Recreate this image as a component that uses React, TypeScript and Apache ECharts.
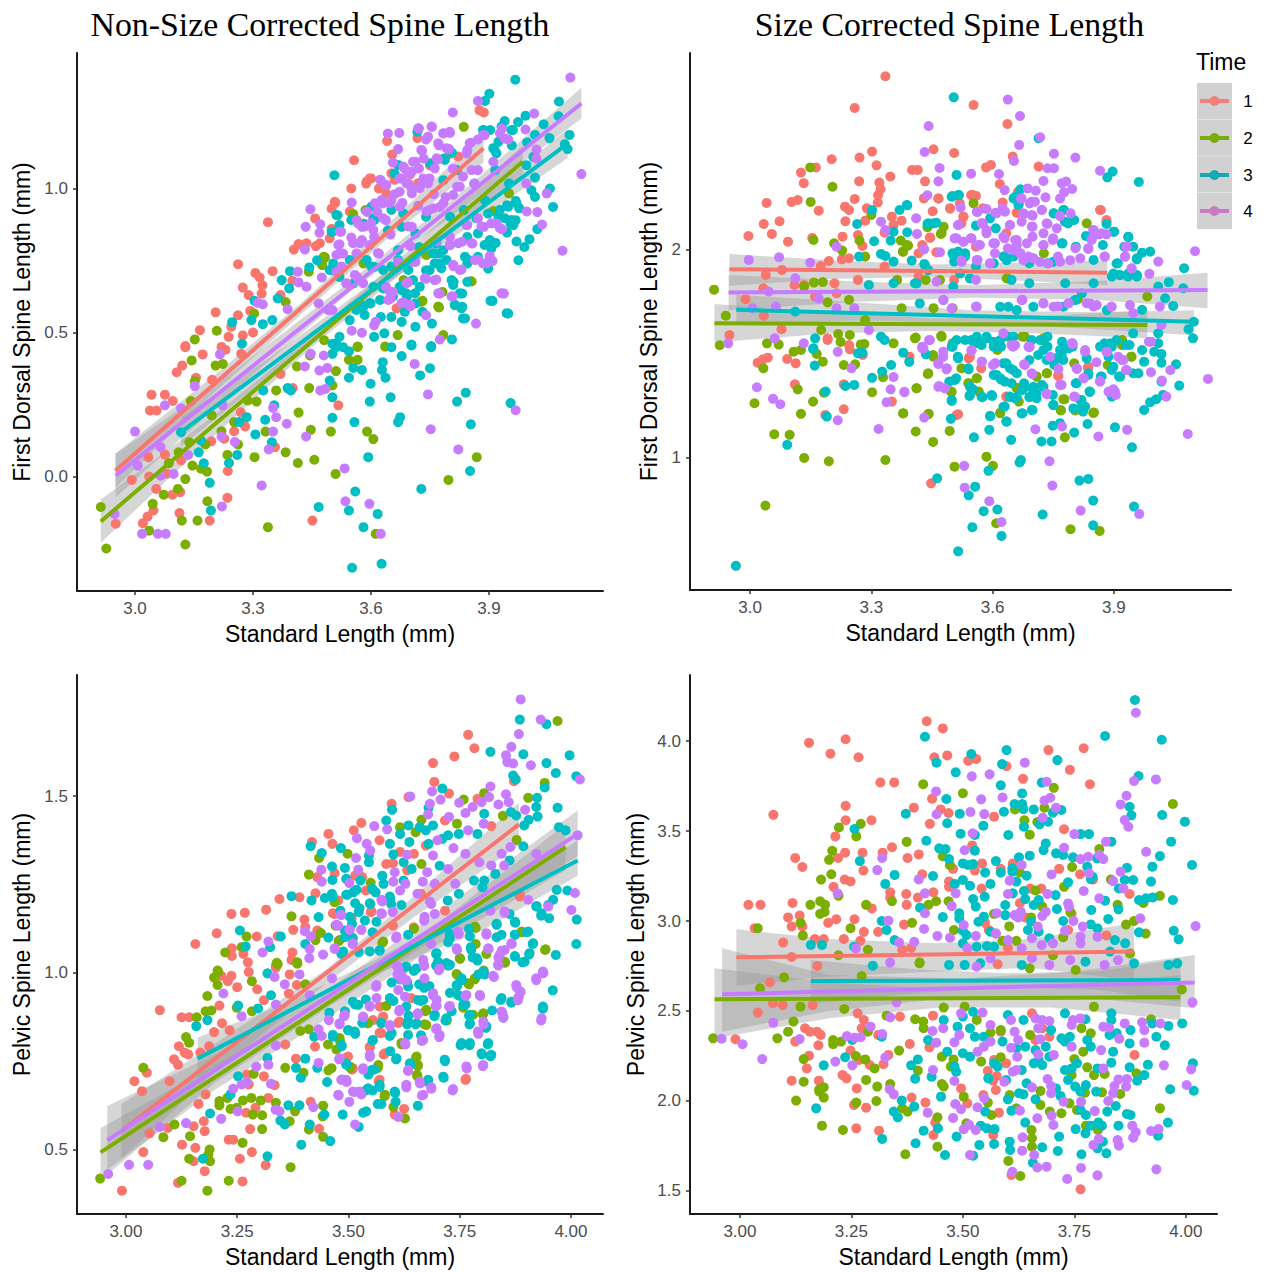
import React, { useEffect, useRef } from "react";
import * as echarts from "echarts";

const GROUP_NAMES = ["1", "2", "3", "4"];
const COLORS = ["#F8766D", "#7CAE00", "#00BFC4", "#C77CFF"];
const LEGEND_COLORS = ["#f0807a", "#7cab0c", "#16a8b4", "#c67cc4"];
const BAND_FILL = "rgba(153,153,153,0.4)";

const pointsA1 = [[3.557,1.098],[3.338,.883],[3.876,1.272],[3.887,1.264],[3.641,1.165],[3.718,1.175],[3.654,1.118],[3.6,1.035],[3.588,1.017],[3.509,.95],[3.458,.896],[3.416,.807],[3.404,.788],[3.436,.81],[3.47,.81],[3.262,.737],[3.306,.707],[3.317,.691],[3.35,.713],[3.274,.656],[3.324,.664],[3.289,.63],[3.322,.635],[3.205,.57],[3.262,.56],[3.293,.575],[3.165,.508],[3.245,.52],[3.238,.485],[3.274,.49],[3.128,.453],[3.128,.449],[3.172,.424],[3.12,.385],[3.106,.362],[3.155,.343],[3.196,.336],[3.042,.284],[3.076,.284],[3.096,.262],[3.038,.229],[3.055,.229],[2.992,-.012],[3.034,.067],[3.076,.076],[3.036,0],[3.054,-.043],[3.115,-.054],[3.095,-.063],[3.047,-.118],[3.032,-.139],[3.02,-.162],[2.951,-.164],[3.113,-.127],[3.19,-.153],[3.235,-.074],[3.236,.019],[3.28,.174],[3.252,.157],[3.269,.223],[3.194,.122],[3.227,.131],[3.356,.102],[3.451,-.153],[3.517,.247],[3.401,.307],[3.23,.44],[3.27,.426],[3.37,.356],[3.117,.056],[3.08,.01],[3.5,.93],[3.55,1.0],[3.62,1.0],[3.66,1.03],[3.7,1.05],[3.75,1.08],[3.8,1.12],[3.46,.8],[3.5,.86],[3.37,.63],[3.4,.68],[3.22,.45],[3.3,.5],[3.652,1.053],[3.589,1.024],[3.597,1.035],[3.508,.954],[3.546,.92],[3.495,.827],[3.639,.983],[3.72,1.018],[3.822,1.111],[3.665,.584]];
const pointsA2 = [[2.913,-.106],[2.927,-.25],[3.128,-.236],[3.036,-.188],[3.119,-.153],[3.159,-.153],[3.045,-.095],[3.184,-.086],[3.073,-.063],[3.109,-.043],[3.128,-.009],[3.338,-.176],[3.146,.038],[3.168,.027],[3.183,.017],[3.086,.046],[3.235,.075],[3.262,.111],[3.304,.067],[3.383,.084],[3.414,.047],[3.456,.058],[3.51,.009],[3.447,.162],[3.498,.156],[3.59,.156],[3.606,.13],[3.612,-.199],[3.797,-.012],[3.869,.067],[3.416,.222],[3.332,.156],[3.22,.157],[3.252,.189],[3.443,.307],[3.359,.299],[3.309,.26],[3.287,.264],[3.142,.262],[3.152,.331],[3.144,.403],[3.205,.385],[3.223,.391],[3.412,.382],[3.445,.42],[3.544,.405],[3.566,.405],[3.566,.451],[3.636,.451],[3.511,.366],[3.502,.316],[3.195,.212],[3.138,.119],[3.179,.111],[3.111,.084],[3.152,.476],[3.208,.506],[3.303,.566],[3.383,.606],[3.476,.734],[3.483,.76],[3.555,.911],[3.442,.711],[3.836,1.214],[3.854,.678],[3.773,.587],[3.731,.61],[3.782,.641],[3.784,.491],[3.668,.491],[3.683,.682],[3.951,.983],[3.566,.45],[3.481,.473],[3.911,.922],[3.581,.74],[3.586,.925],[3.48,.763],[3.474,.74],[3.771,.59],[3.728,.607],[3.856,.677],[3.741,.769]];
const pointsA3 = [[3.967,1.378],[3.901,1.329],[3.89,1.304],[4.078,1.302],[4.077,1.251],[4.039,1.223],[3.993,1.253],[3.974,1.231],[3.94,1.234],[3.961,1.203],[3.933,1.212],[3.903,1.203],[3.886,1.203],[3.718,1.197],[4.054,1.175],[4.105,1.186],[4.1,1.137],[4.093,1.154],[4.017,1.186],[3.997,1.16],[3.958,1.15],[3.914,1.135],[3.924,1.162],[3.806,1.124],[3.785,1.104],[3.755,1.083],[3.995,1.081],[4.017,1.038],[4.055,1],[4.063,.936],[4.008,.994],[4.017,.971],[3.968,.957],[3.946,.942],[3.977,.931],[3.968,.89],[3.955,.878],[3.946,.847],[4.023,.859],[4.003,.824],[3.99,.797],[3.975,.751],[3.917,.811],[3.9,.809],[3.898,.722],[3.85,.751],[3.845,.676],[3.81,.676],[3.832,.635],[3.909,.61],[3.949,.566],[3.814,.595],[3.832,.589],[3.839,.549],[3.806,.476],[3.755,.531],[3.753,.453],[3.703,.458],[3.507,1.046],[3.515,.907],[3.52,.873],[3.502,.85],[3.463,.751],[3.443,.726],[3.394,.713],[3.373,.682],[3.392,.653],[3.363,.618],[3.304,.61],[3.247,.536],[3.296,.543],[3.349,.543],[3.325,.529],[3.625,.554],[3.652,.554],[3.678,.537],[3.713,.52],[3.608,.485],[3.634,.497],[3.581,.589],[3.599,.601],[3.502,.716],[3.52,.485],[3.511,.462],[3.546,.543],[3.749,.716],[3.775,.74],[3.784,.786],[3.766,.774],[3.74,.716],[3.678,.647],[3.691,.624],[3.713,.601],[3.731,.572],[3.872,.763],[3.845,.74],[3.898,.913],[3.872,.844],[3.801,.902],[3.836,.925],[3.74,.902],[3.713,.844],[3.678,.867],[3.643,.855],[3.608,.89],[3.581,.878],[3.669,.786],[3.608,.728],[3.555,.67],[3.52,.693],[3.766,.809],[3.722,.797],[3.845,.832],[3.924,.902],[3.89,.959],[3.863,1.017],[3.819,1.064],[3.784,1.029],[3.951,1.017],[4.013,1.11],[3.916,1.064],[3.66,1.052],[3.272,.461],[3.544,.435],[3.544,.343],[3.555,.377],[3.577,.37],[3.599,.322],[3.597,.26],[3.63,.397],[3.628,.37],[3.637,.343],[3.65,.275],[3.678,.418],[3.725,.351],[3.75,.376],[3.753,.449],[3.703,.455],[3.652,.449],[3.819,.26],[3.841,.291],[3.955,.255],[3.669,.189],[3.674,.206],[3.854,.181],[3.558,.189],[3.502,.204],[3.502,.275],[3.495,.333],[3.388,.307],[3.396,.299],[3.326,.299],[3.331,.197],[3.284,.206],[3.265,.189],[3.306,.146],[3.348,.119],[3.354,.247],[3.162,.084],[3.175,.046],[3.239,.047],[3.26,.075],[3.19,-.022],[3.193,-.118],[3.467,-.106],[3.593,.067],[3.56,-.052],[3.544,-.118],[3.617,-.13],[3.581,-.176],[3.552,-.317],[3.627,-.303],[3.728,-.043],[3.852,.019],[3.511,.449],[3.502,.461],[3.529,.449],[3.502,.426],[3.117,.154],[3.168,.125],[3.775,.775],[3.792,.752],[3.758,.775],[3.762,.74],[3.779,.723],[3.805,.682],[3.809,.665],[3.839,.763],[3.826,.636],[3.813,.596],[3.83,.584],[3.902,.821],[3.889,.804],[3.906,.792],[3.97,.816],[3.94,.897],[3.957,.891],[3.962,.873],[3.949,.937],[3.97,.949],[3.928,.926],[3.868,.897],[3.919,1.122],[3.911,1.14],[3.932,1.215],[3.957,1.203],[3.885,1.203],[3.724,.659],[3.712,.636],[3.69,.636],[3.673,.659],[3.656,.625],[3.631,.653],[3.606,.659],[3.707,.682],[3.695,.717],[3.652,.729],[3.669,.752],[3.631,.717],[3.601,.729],[3.589,.752],[3.572,.602],[3.597,.602],[3.623,.613],[3.584,.561],[3.563,.578],[3.686,.572],[3.546,.752],[3.495,.717],[3.504,.74],[3.55,.891],[3.606,.897],[3.601,.937],[3.652,.926],[3.682,.914],[3.669,1.082],[3.512,.908],[3.5,.85],[3.788,1.099],[3.75,1.088],[3.834,.549],[3.904,.61],[3.945,.567]];
const pointsA4 = [[4.107,1.385],[3.872,1.304],[3.808,1.264],[4.015,1.26],[3.643,1.191],[3.672,1.193],[3.722,1.208],[3.755,1.214],[3.801,1.193],[3.784,1.191],[3.74,1.17],[3.773,1.15],[3.799,1.137],[3.669,1.137],[3.73,1.131],[3.656,1.09],[3.734,1.104],[3.77,1.101],[3.933,1.208],[3.949,1.17],[3.993,1.205],[3.889,1.185],[3.872,1.17],[3.854,1.159],[3.845,1.133],[4.135,1.05],[4.021,1.135],[4.021,1.104],[3.995,1.017],[4.047,.983],[3.996,.92],[4.023,.918],[4.035,.875],[4.087,.784],[3.938,.635],[3.867,.531],[3.808,.626],[3.775,.635],[3.74,.56],[3.7,.591],[3.683,.604],[3.766,.684],[3.74,.687],[3.694,.674],[3.656,.641],[3.65,.618],[3.638,.659],[3.775,.476],[3.577,.499],[3.551,.506],[3.608,.525],[3.612,.537],[3.81,.73],[3.83,.719],[3.872,.753],[3.894,.74],[3.909,.748],[3.902,.765],[3.887,.867],[3.92,.878],[3.933,.859],[3.872,.896],[3.858,.809],[3.832,.815],[3.801,.803],[3.801,.832],[3.845,.873],[3.446,.928],[3.551,.951],[3.434,.867],[3.471,.876],[3.469,.846],[3.524,.85],[3.432,.788],[3.52,.806],[3.555,.811],[3.577,.821],[3.52,.774],[3.529,.774],[3.608,.832],[3.577,.867],[3.564,.89],[3.59,.919],[3.616,.919],[3.638,.89],[3.63,.948],[3.652,.959],[3.625,1.029],[3.638,1.012],[3.686,1.069],[3.704,1.058],[3.713,1.093],[3.722,1.069],[3.696,1.017],[3.704,.983],[3.73,1.017],[3.749,1.035],[3.678,1.035],[3.819,1.006],[3.808,1.069],[3.872,1.064],[3.863,1.017],[3.749,.925],[3.775,.936],[3.704,.867],[3.414,.711],[3.416,.674],[3.436,.659],[3.475,.691],[3.312,.603],[3.325,.598],[3.388,.581],[3.502,.578],[3.467,.601],[3.537,.67],[3.564,.693],[3.62,.774],[3.669,.745],[3.713,.745],[3.968,.23],[3.752,.164],[3.822,.094],[3.745,.285],[3.711,.391],[3.533,.028],[3.535,-.086],[3.596,-.095],[3.625,-.199],[3.322,-.031],[3.221,-.104],[3.065,.003],[3.098,.009],[2.948,-.13],[3.018,-.199],[3.058,-.199],[3.078,-.199],[3.007,.038],[3.0,.156],[3.076,.247],[3.117,.237],[3.152,.314],[3.216,.424],[3.223,.247],[3.065,.102],[3.135,.075],[3.22,.139],[3.254,.12],[3.34,.094],[3.351,.156],[3.435,.139],[3.386,.183],[3.359,.206],[3.351,.238],[3.432,.382],[3.447,.426],[3.469,.368],[3.489,.377],[3.48,.42],[3.471,.299],[3.484,.304],[3.66,.98],[3.68,.95],[3.72,.94],[3.76,.98],[3.79,.97],[3.6,.88],[3.55,.83],[3.65,.84],[3.7,.8],[3.682,1.076],[3.707,1.093],[3.695,1.053],[3.733,1.035],[3.745,1.018],[3.673,1.035],[3.69,1.018],[3.703,1.001],[3.673,.989],[3.724,1.001],[3.623,1.03],[3.639,1.012],[3.61,.949],[3.627,.96],[3.648,.949],[3.673,.937],[3.589,.92],[3.567,.879],[3.584,.868],[3.606,.856],[3.631,.897],[3.695,.868],[3.758,.931],[3.741,.92],[3.784,.949],[3.809,.978],[3.826,1.006],[3.843,1.122],[3.851,1.157],[3.885,1.186],[3.767,1.105],[3.762,1.07],[3.792,1.14],[3.728,1.134],[3.771,1.157],[3.745,1.18],[3.8,1.197],[3.784,1.192],[3.754,1.215],[3.72,1.209],[3.843,.873],[3.881,.868],[3.906,.879],[3.928,.862],[3.822,.81],[3.856,.81],[3.8,.804],[3.767,.816],[3.809,.735],[3.826,.717],[3.864,.752],[3.885,.74],[3.902,.758],[3.737,.688],[3.762,.682],[3.69,.671],[3.771,.636],[3.805,.625],[3.678,.602],[3.699,.596],[3.648,.642],[3.644,.613],[3.618,.775],[3.555,.81],[3.572,.81],[3.521,.85],[3.517,.804],[3.512,.769],[3.563,.775],[3.525,.729],[3.512,.711],[3.559,.7],[3.538,.671],[3.58,.671],[3.597,.804],[3.491,.578],[3.707,.746],[3.932,.636],[3.834,1.041],[3.856,1.064],[3.928,1.192],[3.94,1.174],[3.911,1.093]];

const lineA1 = [[2.95,.02],[3.886,1.14]];
const lineA2 = [[2.913,-.156],[3.986,1.093]];
const lineA3 = [[3.117,.154],[4.1,1.156]];
const lineA4 = [[2.951,.003],[4.135,1.295]];
const bandA1 = [[2.95,-.04,.08],[3.2,.29,.35],[3.42,.56,.6],[3.65,.835,.885],[3.886,1.09,1.19]];
const bandA2 = [[2.913,-.23,-.08],[3.2,.14,.21],[3.45,.45,.49],[3.7,.73,.79],[3.986,1.04,1.15]];
const bandA3 = [[3.117,.104,.204],[3.35,.36,.42],[3.6,.63,.67],[3.85,.87,.93],[4.1,1.106,1.206]];
const bandA4 = [[2.951,-.072,.079],[3.25,.295,.365],[3.55,.645,.681],[3.85,.95,1.01],[4.135,1.243,1.35]];

const pointsB1 = [[3.335,2.835],[3.259,2.683],[3.553,2.697],[3.637,2.606],[3.454,2.484],[3.505,2.466],[3.302,2.473],[3.271,2.444],[3.202,2.436],[3.313,2.407],[3.163,2.397],[3.126,2.372],[3.133,2.321],[3.27,2.33],[3.347,2.353],[3.401,2.385],[3.415,2.385],[3.433,2.33],[3.32,2.324],[3.323,2.292],[3.317,2.264],[3.316,2.228],[3.259,2.245],[3.289,2.2],[3.235,2.208],[3.245,2.192],[3.041,2.226],[3.103,2.231],[3.118,2.24],[3.17,2.189],[3.034,2.125],[3.073,2.138],[3.054,2.077],[2.996,2.067],[3.094,2.04],[3.154,2.058],[3.236,2.138],[3.229,2.064],[3.267,2.072],[3.278,2.019],[3.285,2.141],[3.351,2.16],[3.375,2.141],[3.333,2.083],[3.355,2.12],[3.452,2.186],[3.466,2.248],[3.43,2.248],[3.495,2.199],[3.519,2.224],[3.528,2.16],[3.547,2.264],[3.559,2.26],[3.584,2.397],[3.596,2.409],[3.618,2.317],[3.65,2.449],[3.714,2.401],[3.625,2.228],[3.66,2.179],[3.663,2.28],[3.446,2.059],[3.426,2.024],[3.461,1.989],[3.417,1.984],[3.227,1.955],[3.245,1.96],[3.195,1.947],[3.175,1.923],[3.868,2.192],[3.882,2.136],[3.523,2.128],[3.576,2.2],[3.634,2.08],[3.559,2.016],[3.079,1.904],[3.039,1.88],[3.11,1.832],[3.033,1.816],[2.989,1.763],[3.034,1.684],[2.949,1.591],[3.078,1.619],[3.192,1.575],[3.134,1.832],[3.209,1.84],[3.267,1.856],[3.161,1.776],[3.214,1.792],[3.333,1.92],[3.417,1.872],[3.505,1.856],[3.245,1.543],[3.019,1.458],[3.032,1.474],[3.044,1.482],[3.092,1.476],[3.113,1.455],[3.111,1.354],[3.232,1.354],[3.232,1.234],[3.186,1.207],[3.247,1.522],[3.279,1.495],[3.351,1.271],[3.515,1.21],[3.448,.878],[3.634,1.295],[3.762,1.396],[3.836,1.434],[3.541,1.479],[3.572,1.431],[3.395,1.487],[3.192,1.567],[3.866,2.192],[3.882,2.144],[3.544,1.487],[3.837,1.439],[3.763,1.394],[3.635,1.294],[3.511,1.206],[3.445,2.06],[3.495,2.2],[3.528,2.16],[3.66,2.179],[3.466,2.248],[3.552,2.264]];
const pointsB2 = [[2.911,1.809],[3.149,2.397],[3.204,2.304],[3.15,2.231],[3.157,2.048],[3.208,2.032],[3.228,1.997],[3.271,2.045],[3.285,1.968],[3.3,2.168],[3.378,1.992],[3.391,2.021],[3.373,2.045],[3.472,2.077],[3.479,2.112],[3.439,2.109],[3.553,2.224],[3.833,2.128],[3.727,1.984],[2.94,1.684],[2.925,1.542],[3.042,1.551],[3.071,1.545],[3.134,1.824],[3.158,1.843],[3.18,1.846],[3.192,1.748],[3.176,1.615],[3.218,1.596],[3.224,1.558],[3.247,1.591],[3.274,1.546],[3.283,1.548],[3.355,1.551],[3.41,1.579],[3.473,1.587],[3.501,1.551],[3.285,1.663],[3.375,1.72],[3.454,1.72],[3.501,1.72],[3.637,1.864],[3.811,1.763],[3.983,1.776],[3.435,1.856],[3.47,1.856],[3.245,1.76],[3.364,1.856],[3.727,1.567],[3.674,1.583],[3.033,1.431],[3.108,1.511],[3.126,1.519],[3.165,1.5],[3.18,1.463],[3.232,1.447],[3.26,1.45],[3.011,1.263],[3.118,1.33],[3.156,1.271],[3.183,1.314],[3.126,1.212],[3.06,1.114],[3.098,1.111],[3.134,1],[3.195,.984],[3.335,.99],[3.038,.771],[3.329,1.388],[3.302,1.316],[3.412,1.335],[3.44,1.404],[3.523,1.431],[3.541,1.359],[3.561,1.383],[3.497,1.319],[3.566,1.319],[3.379,1.215],[3.442,1.212],[3.41,1.127],[3.494,1.13],[3.453,1.077],[3.506,.958],[3.601,.962],[3.585,1.006],[3.609,.686],[3.793,.657],[3.865,.649],[3.779,1.099],[3.769,1.228],[3.805,1.228],[3.851,1.218],[3.778,1.282],[3.66,1.338],[3.665,1.271],[3.619,1.215],[3.735,1.407],[3.709,1.391],[3.802,1.455],[3.453,1.495],[3.612,1.519],[3.72,1.567],[3.921,1.567],[3.943,1.487],[3.885,1.447],[3.408,1.575],[3.474,1.583],[3.454,1.487],[3.561,1.383],[3.54,1.359],[3.441,1.407],[3.412,1.335],[3.499,1.318],[3.709,1.391],[3.734,1.407],[3.775,1.282],[3.769,1.23],[3.804,1.23],[3.849,1.217],[3.619,1.217],[3.66,1.335],[3.68,1.583],[3.726,1.575],[3.635,1.863],[3.379,1.214],[3.441,1.211],[3.92,1.543],[3.944,1.487],[3.474,2.08],[3.379,1.992],[3.388,2.024]];
const pointsB3 = [[3.504,2.734],[3.714,2.537],[3.511,2.361],[3.897,2.377],[3.884,2.349],[3.962,2.327],[3.501,2.26],[3.517,2.264],[3.669,2.292],[3.652,2.248],[3.665,2.221],[3.389,2.215],[3.37,2.192],[3.302,2.192],[3.265,2.125],[3.439,2.125],[3.461,2.131],[3.389,2.085],[3.355,2.088],[3.348,2.045],[3.307,2.042],[3.324,1.981],[3.335,1.971],[3.27,1.968],[3.355,1.944],[3.4,1.949],[3.431,1.933],[3.594,2.152],[3.559,2.117],[3.608,2.104],[3.501,1.984],[3.532,1.984],[3.505,1.944],[3.63,1.968],[3.752,2.176],[3.777,2.192],[3.802,2.144],[3.787,2.128],[3.882,2.125],[3.901,2.088],[3.831,2.067],[3.873,2.024],[3.936,2.061],[3.948,2.016],[3.926,2.016],[3.773,2.032],[3.806,2.016],[3.85,1.952],[3.91,1.936],[3.97,1.987],[3.99,1.992],[3.957,1.955],[3.895,1.872],[3.913,1.88],[3.935,1.872],[3.957,1.872],[4.074,1.912],[4.036,1.845],[4.072,1.816],[4.01,1.824],[4.027,1.768],[4.047,1.731],[4.098,1.655],[4.085,1.619],[4.096,1.575],[4.01,1.599],[4.01,1.551],[3.97,1.712],[3.948,1.599],[3.736,1.936],[3.691,1.936],[3.559,1.92],[3.603,1.936],[3.647,1.856],[3.691,1.84],[3.78,1.84],[3.85,1.84],[3.408,1.84],[3.355,1.84],[3.294,1.832],[3.112,1.704],[3.161,1.575],[3.157,1.527],[3.333,1.567],[3.324,1.583],[3.55,1.567],[3.568,1.551],[3.585,1.583],[3.603,1.559],[3.621,1.535],[3.639,1.583],[3.736,1.583],[3.772,1.559],[3.798,1.535],[3.877,1.551],[3.895,1.535],[3.939,1.543],[3.501,1.543],[3.532,1.567],[2.965,.481],[3.515,.551],[3.622,.625],[3.55,.667],[3.578,.744],[3.612,.752],[3.541,.82],[3.463,.902],[3.59,.938],[3.557,.862],[3.667,.978],[3.67,.99],[3.724,.728],[3.849,.795],[3.849,.676],[3.95,.766],[3.815,.891],[3.837,.899],[3.945,1.051],[3.903,1.147],[3.721,1.079],[3.746,1.079],[3.802,1.122],[3.749,1.155],[3.767,1.167],[3.835,1.163],[3.646,1.087],[3.592,1.135],[3.554,1.099],[3.634,1.176],[3.594,1.202],[3.674,1.215],[3.699,1.231],[3.497,1.188],[3.092,1.063],[3.19,1.199],[3.187,1.319],[3.236,1.346],[3.258,1.351],[3.302,1.385],[3.327,1.415],[3.16,1.444],[3.349,1.447],[3.394,1.462],[3.379,1.506],[3.267,1.503],[3.278,1.506],[3.156,1.524],[3.435,1.498],[3.501,1.535],[3.514,1.487],[3.541,1.426],[3.51,1.383],[3.493,1.367],[3.552,1.33],[3.543,1.298],[3.575,1.292],[3.599,1.298],[3.499,1.274],[3.63,1.367],[3.647,1.359],[3.603,1.399],[3.621,1.378],[3.634,1.455],[3.651,1.423],[3.678,1.359],[3.7,1.327],[3.722,1.351],[3.674,1.327],[3.709,1.287],[3.691,1.292],[3.642,1.295],[3.655,1.287],[3.63,1.247],[3.749,1.303],[3.751,1.255],[3.806,1.359],[3.84,1.319],[3.82,1.279],[3.829,1.247],[3.824,1.223],[3.895,1.295],[3.913,1.391],[3.895,1.423],[3.868,1.391],[3.837,1.399],[3.948,1.407],[3.961,1.407],[3.975,1.463],[4.018,1.458],[4.054,1.45],[4.062,1.348],[4.018,1.367],[4.022,1.303],[4.005,1.282],[3.99,1.268],[3.975,1.231],[4.0,1.511],[4.018,1.5],[3.97,1.519],[3.93,1.543],[3.885,1.543],[3.833,1.479],[3.771,1.495],[3.788,1.527],[3.736,1.535],[3.713,1.495],[3.691,1.471],[3.573,1.543],[3.555,1.551],[3.603,1.535],[3.753,1.447],[3.561,1.583],[3.586,1.575],[3.548,1.567],[3.619,1.567],[3.511,1.567],[3.499,1.535],[3.515,1.479],[3.54,1.431],[3.61,1.399],[3.627,1.455],[3.643,1.431],[3.66,1.407],[3.619,1.383],[3.68,1.342],[3.701,1.342],[3.693,1.294],[3.66,1.294],[3.643,1.294],[3.627,1.246],[3.598,1.302],[3.573,1.294],[3.544,1.302],[3.507,1.375],[3.767,1.519],[3.755,1.479],[3.775,1.471],[3.726,1.519],[3.718,1.567],[3.697,1.567],[3.652,1.583],[3.734,1.471],[3.808,1.359],[3.837,1.407],[3.841,1.318],[3.817,1.278],[3.821,1.246],[3.8,1.238],[3.866,1.535],[3.891,1.551],[3.907,1.567],[3.887,1.487],[3.899,1.439],[3.916,1.391],[3.87,1.391],[3.75,1.254],[3.726,1.342],[3.709,1.31],[3.697,1.23],[3.672,1.214],[3.635,1.174],[3.594,1.201],[3.499,1.278],[3.544,1.342],[3.499,2.256],[3.515,2.264],[3.656,2.256],[3.664,2.216],[3.751,2.176],[3.775,2.192],[3.8,2.144],[3.779,2.136],[3.454,2.128],[3.441,2.128],[3.388,2.216],[3.503,1.976],[3.515,1.992],[3.532,1.968],[3.441,1.903],[3.412,1.839],[3.619,1.727],[3.639,1.727],[3.66,1.711],[3.701,1.727],[3.775,1.727],[3.883,1.711],[3.899,1.887],[3.916,1.879],[3.936,1.887],[3.957,1.879],[3.899,2.088],[3.936,2.064],[3.907,1.935],[3.957,1.96],[3.821,1.791],[3.804,1.759],[3.771,2.032],[3.75,1.943],[3.701,1.96],[3.652,1.968],[3.627,1.968],[3.635,1.951],[3.52,1.887],[3.544,1.863],[3.433,1.927],[3.503,1.823],[3.42,1.743]];
const pointsB4 = [[3.638,2.723],[3.668,2.644],[3.442,2.596],[3.432,2.471],[3.718,2.542],[3.666,2.505],[3.752,2.463],[3.805,2.444],[3.653,2.428],[3.736,2.393],[3.752,2.393],[3.469,2.394],[3.547,2.367],[3.616,2.365],[3.466,2.33],[3.726,2.332],[3.866,2.381],[3.771,2.321],[3.797,2.293],[3.782,2.329],[3.777,2.277],[3.767,2.248],[3.731,2.253],[3.63,2.288],[3.687,2.296],[3.707,2.285],[3.67,2.248],[3.439,2.263],[3.521,2.204],[3.563,2.183],[3.585,2.197],[3.625,2.2],[3.607,2.179],[3.705,2.232],[3.692,2.224],[3.722,2.192],[3.678,2.173],[3.699,2.165],[3.767,2.163],[3.793,2.176],[3.411,2.152],[3.324,2.136],[3.335,2.096],[3.515,2.12],[3.576,2.128],[3.643,2.12],[3.736,2.125],[3.849,2.096],[3.864,2.075],[3.882,2.075],[3.846,2.056],[3.837,2.005],[3.413,2.077],[3.506,2.056],[3.528,2.04],[3.546,2.056],[3.564,2.024],[3.585,2.08],[3.602,2.032],[3.63,2.056],[3.638,2.008],[3.656,2.048],[3.699,2.112],[3.699,2.064],[3.726,2.024],[3.749,2.048],[3.214,2.016],[3.431,2.003],[3.47,1.989],[3.93,2.016],[3.928,1.968],[4.01,1.944],[4.101,1.994],[3.805,2.008],[3.669,1.984],[3.682,1.96],[3.699,1.96],[3.762,1.968],[3.877,1.968],[3.944,1.912],[3.988,1.885],[3.594,1.936],[3.563,1.952],[3.523,1.949],[2.997,1.952],[3.072,1.965],[3.149,1.939],[3.112,1.864],[3.046,1.8],[3.006,1.72],[3.064,1.728],[2.946,1.551],[3.061,1.575],[3.133,1.551],[3.17,1.767],[3.258,1.72],[3.214,1.72],[3.294,1.615],[3.461,1.848],[3.559,1.856],[3.674,1.76],[3.726,1.744],[3.762,1.728],[3.788,1.744],[3.833,1.744],[3.85,1.728],[3.894,1.728],[3.948,1.696],[4.014,1.728],[4.018,1.639],[3.992,1.559],[3.798,1.551],[3.692,1.535],[3.647,1.543],[3.559,1.728],[3.479,1.76],[3.443,1.567],[3.426,1.535],[3.017,1.34],[3.057,1.284],[3.075,1.258],[3.217,1.51],[3.217,1.181],[3.318,1.139],[3.251,1.431],[3.355,1.389],[3.348,1.33],[3.382,1.316],[3.338,1.268],[3.431,1.194],[3.466,1.452],[3.486,1.426],[3.468,1.346],[3.482,1.335],[3.53,.962],[3.531,.857],[3.592,.792],[3.622,.692],[3.741,.984],[3.748,.867],[3.818,.747],[3.963,.731],[3.706,1.138],[3.772,1.151],[3.862,1.103],[3.933,1.135],[4.083,1.115],[4.133,1.38],[4.019,1.372],[4.03,1.295],[3.888,1.319],[3.899,1.33],[3.905,1.303],[3.866,1.37],[3.826,1.383],[3.809,1.428],[3.771,1.351],[3.763,1.428],[3.734,1.306],[3.698,1.404],[3.678,1.45],[3.607,1.455],[3.601,1.447],[3.574,1.463],[3.802,1.295],[3.93,1.423],[3.992,1.412],[4.04,1.423],[3.92,1.471],[3.857,1.46],[3.882,1.51],[3.829,1.511],[3.798,1.548],[3.742,1.487],[3.691,1.532],[3.651,1.535],[3.548,1.516],[3.478,1.511],[3.426,1.527],[3.987,1.559],[3.652,1.999],[3.668,1.984],[3.689,1.968],[3.718,1.943],[3.738,1.935],[3.767,1.943],[3.792,1.951],[3.817,1.96],[3.676,1.951],[3.66,2.024],[3.685,2.032],[3.726,2.024],[3.75,2.056],[3.726,2.08],[3.697,2.112],[3.734,2.128],[3.759,2.104],[3.66,2.048],[3.627,2.064],[3.585,2.096],[3.573,2.128],[3.561,2.184],[3.61,2.176],[3.631,2.184],[3.643,2.12],[3.672,2.136],[3.676,2.176],[3.697,2.168],[3.722,2.192],[3.697,2.232],[3.672,2.248],[3.515,2.12],[3.511,2.056],[3.528,2.04],[3.548,2.056],[3.569,2.024],[3.606,2.032],[3.606,1.984],[3.594,1.935],[3.561,1.951],[3.524,1.943],[3.85,2.096],[3.87,2.08],[3.845,2.048],[3.837,2.008],[3.932,2.016],[3.928,1.968],[3.878,1.968],[3.944,1.911],[3.627,1.599],[3.656,1.543],[3.689,1.535],[3.796,1.551],[3.829,1.519],[3.883,1.511],[3.911,1.487],[3.924,1.471],[3.932,1.423],[3.808,1.431],[3.825,1.383],[3.866,1.367],[3.68,1.447],[3.697,1.407],[3.606,1.455],[3.573,1.463],[3.548,1.519],[3.487,1.431],[3.466,1.455],[3.478,1.487],[3.429,1.527],[3.445,1.567],[3.466,1.342],[3.482,1.335],[3.382,1.318],[3.767,1.351],[3.734,1.31],[3.804,1.294],[3.887,1.318],[3.903,1.318],[3.841,1.743],[3.858,1.735],[3.726,1.743],[3.751,1.727],[3.788,1.743],[3.895,1.727],[3.94,1.735],[3.672,1.759],[3.499,1.719],[3.561,1.727],[3.478,1.759]];

const lineB1 = [[2.949,1.907],[3.884,1.891]];
const lineB2 = [[2.912,1.647],[3.983,1.639]];
const lineB3 = [[2.966,1.712],[4.098,1.655]];
const lineB4 = [[2.947,1.796],[4.132,1.808]];
const bandB1 = [[2.949,1.828,1.98],[3.2,1.86,1.95],[3.45,1.87,1.93],[3.7,1.85,1.94],[3.884,1.83,1.95]];
const bandB2 = [[2.912,1.555,1.74],[3.2,1.6,1.7],[3.45,1.61,1.67],[3.7,1.6,1.68],[3.983,1.575,1.71]];
const bandB3 = [[2.966,1.64,1.785],[3.25,1.66,1.75],[3.55,1.65,1.71],[3.85,1.62,1.7],[4.098,1.59,1.71]];
const bandB4 = [[2.947,1.71,1.88],[3.25,1.75,1.85],[3.55,1.77,1.83],[3.85,1.76,1.85],[4.132,1.72,1.89]];

const pointsC1 = [[3.156,1.082],[3.204,1.112],[3.237,1.167],[3.267,1.17],[3.315,1.179],[3.345,1.209],[3.39,1.214],[3.376,1.122],[3.401,1.151],[3.294,1.103],[3.341,1.104],[3.238,1.07],[3.238,1.048],[3.264,1.054],[3.274,1.03],[3.374,1.058],[3.372,1.037],[3.337,1.021],[3.426,1.225],[3.418,1.37],[3.455,1.393],[3.464,1.365],[3.529,1.424],[3.512,1.403],[3.57,1.375],[3.597,1.478],[3.635,1.497],[3.69,1.593],[3.693,1.54],[3.738,1.612],[3.769,1.673],[3.783,1.635],[3.726,1.507],[3.79,1.492],[3.872,1.542],[3.821,1.415],[3.717,1.431],[3.616,1.342],[3.647,1.337],[3.674,1.36],[3.585,1.308],[3.6,1.31],[3.531,1.271],[3.515,1.275],[3.469,1.282],[3.43,1.271],[3.477,1.205],[3.469,1.167],[3.43,1.12],[3.508,1.101],[3.539,1.233],[3.55,1.172],[3.647,1.129],[3.632,1.29],[3.885,1.216],[3.6,1.134],[3.717,1.176],[3.663,1.224],[3.403,1.13],[3.076,.895],[3.125,.875],[3.142,.875],[3.214,.992],[3.237,.992],[3.229,.977],[3.25,.96],[3.295,.954],[3.276,1.003],[3.21,.908],[3.216,.858],[3.198,.833],[3.233,.838],[3.31,.923],[3.368,.996],[3.337,1.015],[3.384,.966],[3.366,.942],[3.119,.793],[3.132,.775],[3.14,.77],[3.108,.756],[3.117,.741],[3.167,.775],[3.187,.793],[3.047,.718],[3.019,.694],[3.036,.666],[3.098,.694],[3.179,.657],[3.163,.63],[3.175,.581],[3.152,.567],[3.177,.553],[3.094,.562],[3.053,.547],[3.126,.515],[3.156,.506],[3.039,.494],[3.152,.468],[3.177,.44],[3.117,.407],[2.991,.385],[3.262,.411],[3.314,.457],[3.256,.475],[3.283,.494],[3.231,.529],[3.241,.529],[3.279,.559],[3.291,.619],[3.27,.605],[3.32,.647],[3.31,.708],[3.276,.685],[3.334,.683],[3.272,.713],[3.415,.636],[3.434,.56],[3.382,.758],[3.425,.792],[3.358,.798],[3.496,.761],[3.568,.694],[3.548,.789],[3.579,.77],[3.604,.6],[3.625,.616],[3.763,.698],[3.508,.727],[3.57,.831],[3.612,.859],[3.577,.874],[3.465,1.169],[3.507,1.155],[3.552,1.174],[3.885,1.221],[3.57,.905],[3.641,.929],[3.578,.877],[3.555,.867],[3.615,.863],[3.574,.83],[3.548,.792],[3.582,.773],[3.499,.764],[3.51,.731],[3.57,.698],[3.764,.701]];
const pointsC2 = [[3.271,1.103],[3.223,1.058],[3.26,1.073],[3.372,1.16],[3.339,1.029],[3.385,1.03],[3.411,1.278],[3.498,1.337],[3.434,1.325],[3.471,1.134],[3.438,1.113],[3.426,1.093],[3.478,1.09],[3.576,1.085],[3.55,1.255],[3.664,1.433],[3.616,1.412],[3.744,1.422],[3.759,1.49],[3.805,1.508],[3.941,1.537],[3.97,1.712],[3.904,1.495],[3.664,1.308],[3.847,1.444],[3.878,1.376],[3.786,1.127],[3.89,1.115],[3.942,1.065],[3.81,1.054],[3.651,1.398],[3.469,1.2],[3.786,1.082],[3.751,1.04],[3.848,1.03],[3.206,1.007],[3.647,1.125],[3.804,1.007],[3.207,1.003],[3.198,.987],[3.206,.966],[3.183,.935],[3.179,.892],[3.192,.894],[3.159,.875],[3.135,.819],[3.142,.803],[3.039,.732],[3.188,.501],[3.185,.487],[3.189,.468],[3.142,.475],[3.125,.413],[3.183,.385],[3.231,.413],[2.942,.419],[3.37,.451],[3.262,.52],[3.306,.559],[3.285,.6],[3.306,.598],[3.21,.638],[3.21,.626],[3.228,.647],[3.235,.616],[3.249,.619],[3.263,.64],[3.282,.647],[3.303,.64],[3.337,.633],[3.38,.609],[3.368,.581],[3.411,.558],[3.443,.537],[3.442,.595],[3.443,.625],[3.084,.536],[3.109,.572],[3.144,.539],[3.287,.715],[3.358,.732],[3.399,.718],[3.455,.725],[3.454,.798],[3.481,.808],[3.473,.784],[3.504,.732],[3.566,.732],[3.652,.76],[3.656,.737],[3.655,.708],[3.581,.652],[3.601,.621],[3.627,.589],[3.673,.892],[3.671,.855],[3.721,.866],[3.758,.902],[3.802,.883],[3.771,.968],[3.784,.982],[3.745,.994],[3.62,.798],[3.585,.907],[3.543,.858],[3.411,.841],[3.392,.836],[3.403,.968],[3.341,1.025],[3.385,1.026],[3.283,.977],[3.283,.892],[3.249,.902],[3.852,1.029],[3.578,1.089],[3.48,1.093],[3.675,.896],[3.675,.853],[3.743,.997],[3.75,1.042],[3.769,.971],[3.784,.985],[3.78,.882],[3.803,.886],[3.943,1.067],[3.653,.764],[3.656,.74],[3.654,.712],[3.503,.736],[3.567,.74],[3.462,.731],[3.48,.816],[3.784,1.131],[3.889,1.117],[3.851,1.032],[3.582,.656],[3.544,.858],[3.619,.802]];
const pointsC3 = [[3.885,1.716],[3.945,1.703],[3.819,1.625],[3.893,1.618],[3.945,1.593],[3.997,1.615],[3.966,1.565],[4.012,1.556],[3.87,1.558],[3.876,1.547],[3.941,1.524],[3.924,1.495],[3.922,1.469],[3.97,1.467],[3.925,1.442],[3.905,1.433],[3.895,1.417],[3.711,1.521],[3.973,1.412],[3.988,1.403],[3.865,1.455],[3.877,1.445],[3.893,1.358],[3.862,1.318],[3.83,1.28],[3.968,1.235],[3.992,1.233],[3.96,1.207],[3.923,1.189],[3.933,1.162],[3.951,1.155],[4.013,1.151],[4.012,1.082],[3.914,1.082],[3.901,1.115],[3.874,1.108],[3.966,1.051],[3.906,1.052],[3.891,1.03],[3.874,1.048],[3.875,1.142],[3.833,1.139],[3.833,1.101],[3.728,1.11],[3.724,1.087],[3.771,1.125],[3.775,1.073],[3.779,1.044],[3.79,1.035],[3.697,1.054],[3.724,1.021],[3.697,1.021],[3.805,1.45],[3.79,1.393],[3.748,1.393],[3.724,1.389],[3.711,1.379],[3.68,1.365],[3.68,1.467],[3.66,1.412],[3.69,1.417],[3.674,1.403],[3.635,1.417],[3.616,1.393],[3.637,1.37],[3.593,1.365],[3.598,1.461],[3.585,1.431],[3.415,1.358],[3.44,1.339],[3.483,1.353],[3.463,1.301],[3.492,1.297],[3.464,1.263],[3.495,1.266],[3.527,1.261],[3.546,1.332],[3.546,1.313],[3.576,1.275],[3.579,1.252],[3.601,1.335],[3.624,1.313],[3.642,1.294],[3.624,1.261],[3.372,1.217],[3.417,1.205],[3.447,1.212],[3.463,1.214],[3.463,1.224],[3.498,1.221],[3.511,1.228],[3.553,1.238],[3.561,1.228],[3.549,1.195],[3.515,1.197],[3.482,1.176],[3.523,1.172],[3.537,1.148],[3.594,1.209],[3.596,1.195],[3.433,1.158],[3.455,1.1],[3.348,1.103],[3.256,1.12],[3.269,1.075],[3.324,1.073],[3.403,1.082],[3.492,1.12],[3.508,1.139],[3.492,1.101],[3.554,1.115],[3.523,1.059],[3.57,1.063],[3.484,1.054],[3.782,1.261],[3.805,1.261],[3.748,1.224],[3.723,1.205],[3.705,1.303],[3.801,1.242],[3.862,1.167],[3.318,.999],[3.326,.937],[3.297,.9],[3.252,.908],[3.183,.867],[3.158,.85],[3.189,.603],[3.173,.475],[3.318,.482],[3.252,.708],[3.235,.657],[3.318,.76],[3.365,.626],[3.39,.626],[3.347,.583],[3.357,.572],[3.413,.572],[3.446,.6],[3.459,.525],[3.394,.515],[3.523,.565],[3.487,.6],[3.533,.605],[3.54,.609],[3.403,.758],[3.382,.732],[3.393,.704],[3.43,.732],[3.452,.692],[3.495,.741],[3.485,.793],[3.423,.82],[3.465,.82],[3.5,.838],[3.515,.828],[3.554,.809],[3.545,.713],[3.558,.727],[3.539,.668],[3.554,.668],[3.57,.678],[3.566,.63],[3.574,.63],[3.605,.661],[3.606,.636],[3.656,.625],[3.678,.692],[3.714,.704],[3.717,.751],[3.639,.741],[3.607,.756],[3.594,.779],[3.752,.796],[3.772,.796],[3.813,.798],[3.8,.77],[3.819,.765],[3.663,.824],[3.809,.845],[3.772,.855],[3.771,.88],[3.823,.894],[3.866,.916],[3.842,.924],[3.959,.951],[3.937,.899],[3.848,.874],[3.806,.996],[3.792,.996],[3.755,.98],[3.744,.963],[3.728,.944],[3.724,1.023],[3.701,1.025],[3.75,.935],[3.763,.911],[3.732,.892],[3.718,.866],[3.693,.878],[3.663,.921],[3.67,.958],[3.682,.963],[3.632,.855],[3.651,.855],[3.635,.88],[3.601,.921],[3.593,.822],[3.574,.859],[3.531,.859],[3.539,.925],[3.515,.911],[3.492,.892],[3.457,.888],[3.632,.973],[3.616,.982],[3.647,1.006],[3.597,.973],[3.659,.968],[3.465,1.216],[3.495,1.221],[3.518,1.235],[3.555,1.235],[3.525,1.183],[3.548,1.197],[3.593,1.216],[3.619,1.192],[3.563,1.145],[3.503,1.159],[3.51,1.098],[3.488,1.061],[3.548,1.061],[3.57,1.065],[3.634,1.108],[3.51,.919],[3.522,.91],[3.499,.839],[3.514,.835],[3.484,.797],[3.465,.825],[3.495,.745],[3.555,.811],[3.574,.858],[3.597,.83],[3.634,.825],[3.608,.759],[3.552,.726],[3.544,.674],[3.57,.684],[3.604,.665],[3.638,.745],[3.679,.698],[3.713,.707],[3.716,.755],[3.754,.802],[3.773,.802],[3.814,.802],[3.799,.773],[3.821,.769],[3.623,1.013],[3.63,1.018],[3.653,1.013],[3.634,.962],[3.668,.924],[3.656,.924],[3.593,.929],[3.63,.905],[3.634,.863],[3.653,.858],[3.694,.882],[3.72,.872],[3.698,1.056],[3.701,1.032],[3.72,1.028],[3.728,1.023],[3.754,.985],[3.743,.966],[3.746,.938],[3.758,.91],[3.773,.882],[3.773,.858],[3.773,1.103],[3.776,1.065],[3.788,1.042],[3.728,1.098],[3.833,1.136],[3.844,1.108],[3.874,1.145],[3.874,1.108],[3.904,1.117],[3.915,1.084],[3.907,1.056],[3.896,1.032],[3.874,1.046],[3.803,1.004],[3.81,.849],[3.844,.929],[3.866,.919],[3.937,.905],[3.922,1.188],[3.934,1.169],[3.949,1.192]];
const pointsC4 = [[3.887,1.773],[3.932,1.716],[3.883,1.675],[3.866,1.639],[3.854,1.615],[3.857,1.596],[3.87,1.592],[3.91,1.587],[4.02,1.547],[3.639,1.499],[3.688,1.513],[3.819,1.527],[3.816,1.497],[3.799,1.483],[3.779,1.469],[3.763,1.452],[3.749,1.481],[3.707,1.49],[3.683,1.478],[3.679,1.448],[3.726,1.441],[3.769,1.403],[3.804,1.422],[3.837,1.476],[3.854,1.505],[3.86,1.483],[3.897,1.461],[3.558,1.415],[3.587,1.406],[3.519,1.381],[3.541,1.365],[3.549,1.346],[3.517,1.325],[3.7,1.375],[3.736,1.353],[3.69,1.332],[3.632,1.334],[3.763,1.337],[3.794,1.313],[3.821,1.304],[3.85,1.304],[3.864,1.356],[3.844,1.337],[3.922,1.337],[4.015,1.389],[4.009,1.226],[3.904,1.207],[3.949,1.188],[4.001,1.178],[3.522,1.292],[3.439,1.292],[3.44,1.258],[3.502,1.254],[3.604,1.285],[3.677,1.285],[3.667,1.258],[3.601,1.258],[3.628,1.252],[3.616,1.233],[3.655,1.224],[3.694,1.252],[3.724,1.294],[3.74,1.252],[3.576,1.202],[3.599,1.172],[3.575,1.167],[3.686,1.195],[3.67,1.148],[3.694,1.167],[3.819,1.176],[3.851,1.17],[3.483,1.164],[3.402,1.118],[3.415,1.104],[3.502,1.123],[3.529,1.122],[3.477,1.134],[3.607,1.099],[3.509,1.082],[3.469,1.068],[3.413,1.068],[3.412,1.042],[3.443,1.052],[3.32,1.089],[3.307,1.058],[3.81,1.108],[3.815,1.068],[3.744,1.065],[3.748,1.11],[3.867,1.082],[3.844,1.063],[3.837,1.044],[3.67,1.022],[3.938,1.0],[3.608,1.021],[3.686,1.082],[3.837,1.021],[3.334,.989],[3.39,.996],[3.357,.968],[3.219,.942],[3.26,.878],[3.337,.911],[3.413,.937],[3.463,.985],[3.61,.994],[3.62,.982],[3.67,1.02],[3.703,1.008],[3.827,.989],[3.922,.98],[3.937,.999],[3.878,.96],[3.887,.947],[3.883,.932],[3.881,.923],[3.796,.935],[3.763,.935],[3.69,.937],[3.696,.907],[3.726,.905],[3.655,.883],[3.614,.892],[3.548,.905],[3.562,.961],[3.533,.875],[3.456,.867],[3.48,.855],[3.49,.878],[3.433,.841],[3.44,.822],[3.593,.85],[3.697,.841],[3.704,.819],[3.665,.808],[3.628,.798],[3.848,.874],[3.846,.888],[3.933,.866],[3.804,.855],[3.792,.828],[3.548,.763],[3.479,.756],[3.433,.746],[3.337,.795],[3.533,.727],[3.634,.723],[3.766,.73],[3.802,.737],[3.485,.699],[3.496,.692],[3.661,.688],[3.734,.668],[3.686,.673],[3.63,.677],[3.665,.654],[3.478,.654],[3.514,.664],[3.529,.657],[3.502,.636],[3.421,.621],[3.336,.614],[3.345,.609],[3.251,.609],[3.214,.588],[3.135,.576],[3.076,.565],[3.26,.685],[3.272,.692],[3.241,.673],[3.293,.735],[3.32,.741],[3.326,.687],[3.515,.572],[3.612,.593],[3.007,.458],[3.05,.458],[2.96,.432],[3.484,1.164],[3.473,1.136],[3.503,1.122],[3.529,1.122],[3.51,1.084],[3.469,1.07],[3.574,1.207],[3.574,1.169],[3.6,1.174],[3.608,1.103],[3.683,1.202],[3.671,1.159],[3.851,1.174],[3.814,1.07],[3.81,1.112],[3.851,1.065],[3.866,1.084],[3.84,1.051],[3.836,1.023],[3.746,1.117],[3.743,1.07],[3.668,1.037],[3.705,1.013],[3.612,1.013],[3.619,.995],[3.63,.98],[3.671,.985],[3.563,.966],[3.563,.929],[3.548,.907],[3.533,.877],[3.612,.952],[3.627,.933],[3.615,.896],[3.656,.886],[3.593,.853],[3.492,.882],[3.48,.858],[3.627,.802],[3.668,.811],[3.698,.844],[3.705,.825],[3.728,.907],[3.69,.943],[3.698,.924],[3.698,.907],[3.765,.938],[3.795,.938],[3.825,.992],[3.791,.835],[3.803,.863],[3.844,.891],[3.848,.877],[3.877,.966],[3.885,.948],[3.881,.929],[3.922,.985],[3.937,1.004],[3.934,.872],[3.634,.726],[3.66,.693],[3.63,.684],[3.686,.677],[3.668,.656],[3.735,.672],[3.765,.736],[3.803,.74],[3.548,.769],[3.533,.731],[3.484,.698],[3.495,.698],[3.51,.665],[3.525,.665],[3.48,.759],[3.477,.656]];

const lineC1 = [[2.99,.553],[3.883,1.42]];
const lineC2 = [[2.943,.493],[3.988,1.356]];
const lineC3 = [[3.161,.758],[4.015,1.318]];
const lineC4 = [[2.958,.527],[4.015,1.393]];
const bandC1 = [[2.99,.475,.63],[3.2,.72,.8],[3.45,.97,1.01],[3.65,1.16,1.22],[3.883,1.36,1.48]];
const bandC2 = [[2.943,.43,.562],[3.2,.67,.74],[3.45,.87,.92],[3.7,1.08,1.14],[3.988,1.29,1.42]];
const bandC3 = [[3.161,.704,.817],[3.35,.85,.91],[3.55,.99,1.03],[3.8,1.12,1.2],[4.015,1.275,1.375]];
const bandC4 = [[2.958,.43,.624],[3.2,.69,.77],[3.45,.9,.95],[3.7,1.1,1.17],[4.015,1.33,1.459]];

const pointsD1 = [[3.419,4.11],[3.455,4.07],[3.155,3.99],[3.237,4.01],[3.203,3.93],[3.266,3.91],[3.436,3.91],[3.465,3.92],[3.512,3.89],[3.53,3.9],[3.598,3.86],[3.692,3.95],[3.771,3.96],[3.74,3.84],[3.635,3.79],[3.785,3.76],[3.315,3.77],[3.346,3.77],[3.431,3.68],[3.237,3.64],[3.39,3.63],[3.45,3.62],[3.468,3.6],[3.57,3.58],[3.075,3.59],[3.237,3.56],[3.295,3.56],[3.426,3.54],[3.214,3.47],[3.727,3.51],[3.341,3.41],[3.32,3.38],[3.521,3.42],[3.376,3.35],[3.401,3.37],[3.275,3.38],[3.236,3.38],[3.22,3.35],[3.124,3.35],[3.14,3.3],[3.277,3.28],[3.543,3.32],[3.612,3.32],[3.478,3.29],[3.527,3.28],[3.585,3.29],[3.409,3.26],[3.235,3.23],[3.248,3.22],[3.21,3.19],[3.716,3.29],[3.763,3.26],[3.792,3.23],[3.469,3.22],[3.469,3.19],[3.337,3.16],[3.373,3.15],[3.337,3.13],[3.399,3.13],[3.434,3.16],[3.542,3.18],[3.651,3.18],[3.676,3.18],[3.874,3.15],[3.019,3.09],[3.046,3.09],[3.118,3.1],[3.374,3.09],[3.296,3.07],[3.628,3.1],[3.108,3.02],[3.134,3.03],[3.116,2.97],[3.14,2.97],[3.033,2.96],[3.198,2.99],[3.216,3.01],[3.257,3.01],[3.368,2.98],[3.55,2.99],[3.278,2.94],[3.31,2.94],[3.233,2.9],[3.168,2.9],[3.188,2.9],[3.27,2.89],[3.744,3.04],[3.64,3.02],[3.736,2.95],[3.574,2.93],[3.558,2.95],[3.822,2.92],[3.097,2.88],[3.364,2.84],[3.384,2.85],[3.116,2.8],[3.601,2.85],[3.578,2.76],[3.174,2.75],[2.99,2.343],[3.124,2.33],[3.146,2.404],[3.157,2.385],[3.173,2.385],[3.181,2.367],[3.176,2.309],[3.155,2.252],[3.15,2.181],[3.116,2.113],[3.177,2.113],[3.23,2.144],[3.239,2.126],[3.262,2.07],[3.248,2.28],[3.267,2.228],[3.291,2.2],[3.322,2.204],[3.333,2.256],[3.278,2.45],[3.273,2.404],[3.359,2.469],[3.31,2.367],[3.381,2.317],[3.433,2.474],[3.425,2.298],[3.385,2.019],[3.416,1.991],[3.256,1.978],[3.283,1.963],[3.261,1.848],[3.312,1.835],[3.434,1.811],[3.438,1.881],[3.51,1.987],[3.496,2.07],[3.556,2.167],[3.576,2.139],[3.568,2.113],[3.574,2.061],[3.546,2.033],[3.581,1.935],[3.568,1.811],[3.609,1.589],[3.764,1.509],[3.885,2.256],[3.597,2.209],[3.57,2.228],[3.694,2.357],[3.655,2.487],[3.585,2.385],[3.663,2.339],[3.678,2.404],[3.067,2.659],[3.04,2.491],[3.074,2.543],[3.096,2.533],[3.163,2.533],[3.264,2.487]];
const pointsD2 = [[3.411,3.76],[3.5,3.71],[3.704,3.74],[3.617,3.62],[3.683,3.63],[3.638,3.56],[3.667,3.55],[3.65,3.48],[3.222,3.52],[3.271,3.54],[3.261,3.47],[3.374,3.44],[3.207,3.39],[3.2,3.34],[3.455,3.36],[3.471,3.31],[3.205,3.26],[3.182,3.23],[3.221,3.14],[3.158,3.09],[3.18,3.11],[3.191,3.09],[3.19,3.05],[3.18,3.04],[3.283,3.09],[3.341,3.11],[3.423,3.09],[3.44,3.11],[3.468,3.11],[3.663,3.17],[3.727,3.19],[3.628,3.27],[3.745,3.3],[3.806,3.4],[3.971,3.65],[3.942,3.14],[3.847,3.09],[3.905,3.1],[3.832,3.23],[3.741,3.05],[3.678,3.08],[3.04,2.96],[3.136,2.99],[3.248,2.96],[3.386,2.99],[3.48,2.95],[3.604,2.97],[3.653,3.02],[3.866,2.98],[3.884,3],[3.91,2.93],[3.141,2.92],[3.287,2.84],[3.221,2.81],[3.875,2.82],[3.403,2.77],[3.589,2.89],[3.62,2.89],[3.725,2.91],[3.702,2.81],[3.57,3.04],[2.94,2.348],[3.084,2.348],[3.108,2.385],[3.209,2.339],[3.227,2.33],[3.209,2.315],[3.287,2.385],[3.329,2.474],[3.393,2.454],[3.411,2.441],[3.412,2.404],[3.357,2.28],[3.143,2.233],[3.26,2.25],[3.281,2.231],[3.302,2.181],[3.143,2.107],[3.283,2.117],[3.337,2.094],[3.308,2.08],[3.178,2.065],[3.188,2.076],[3.178,2.052],[3.188,2.019],[3.126,2.002],[3.261,1.991],[3.306,2],[3.184,1.863],[3.231,1.839],[3.371,1.704],[3.443,1.746],[3.443,1.909],[3.364,1.959],[3.376,1.941],[3.453,2.094],[3.457,2.08],[3.399,2.169],[3.453,2.246],[3.479,2.231],[3.473,2.191],[3.541,2.219],[3.585,2.243],[3.502,2.024],[3.556,1.991],[3.564,1.922],[3.605,2.033],[3.508,1.876],[3.654,1.839],[3.655,1.793],[3.655,1.746],[3.602,1.667],[3.629,1.583],[3.62,1.959],[3.674,2.056],[3.674,1.978],[3.695,1.941],[3.721,1.932],[3.756,1.95],[3.739,1.987],[3.75,2.233],[3.779,2.187],[3.794,2.144],[3.818,2.15],[3.744,2.144],[3.774,2.046],[3.812,2.048],[3.853,2.039],[3.776,1.863],[3.803,1.839],[3.889,2.154],[3.942,1.959],[3.531,2.45],[3.562,2.38],[3.651,2.367],[3.766,2.404],[3.787,2.376],[3.585,2.394],[3.922,2.454],[3.77,2.274],[3.045,2.626],[3.099,2.687],[3.12,2.441],[3.136,2.524],[3.234,2.511],[3.273,2.694],[3.403,2.765],[3.65,2.737],[3.753,2.728],[3.991,2.62],[3.504,2.524],[3.457,2.519],[3.794,2.524]];
const pointsD3 = [[3.886,4.228],[3.946,4.007],[3.819,4.028],[3.415,4.024],[3.519,3.928],[3.598,3.95],[3.441,3.88],[3.588,3.872],[3.712,3.894],[3.484,3.826],[3.894,3.806],[3.585,3.754],[3.677,3.769],[3.633,3.709],[3.463,3.678],[3.616,3.65],[3.633,3.65],[3.636,3.622],[3.659,3.62],[3.702,3.602],[3.721,3.617],[3.592,3.607],[3.874,3.635],[3.878,3.587],[3.372,3.596],[3.493,3.596],[3.465,3.543],[3.546,3.53],[3.257,3.511],[3.495,3.485],[3.527,3.478],[3.602,3.478],[3.637,3.524],[3.672,3.537],[3.691,3.552],[3.947,3.589],[3.998,3.552],[3.764,3.483],[3.783,3.483],[3.833,3.441],[3.967,3.441],[3.418,3.446],[3.447,3.404],[3.461,3.4],[3.527,3.391],[3.469,3.344],[3.686,3.431],[3.681,3.394],[3.709,3.376],[3.725,3.367],[3.65,3.363],[3.626,3.354],[3.574,3.333],[3.942,3.361],[4.014,3.311],[3.747,3.354],[3.779,3.302],[3.801,3.348],[3.925,3.302],[3.269,3.333],[3.5,3.32],[3.512,3.311],[3.523,3.317],[3.611,3.293],[3.611,3.274],[3.55,3.269],[3.585,3.269],[3.643,3.252],[3.791,3.246],[3.787,3.233],[3.347,3.256],[3.433,3.25],[3.5,3.228],[3.736,3.215],[3.868,3.296],[3.863,3.228],[3.882,3.228],[3.922,3.219],[3.85,3.181],[3.326,3.206],[3.516,3.196],[3.482,3.206],[3.562,3.206],[3.62,3.219],[3.637,3.167],[3.612,3.154],[3.708,3.144],[3.549,3.135],[3.523,3.122],[3.64,3.122],[3.67,3.117],[3.659,3.089],[3.529,3.08],[3.595,3.089],[3.711,3.067],[3.788,3.061],[3.819,3.113],[3.849,3.065],[3.895,3.117],[3.911,3.126],[3.926,3.131],[3.971,3.117],[3.404,3.074],[3.595,3.033],[3.455,3.022],[3.492,3.043],[3.492,3.015],[3.547,3.024],[3.535,2.996],[3.653,2.996],[3.725,3],[3.826,3.011],[3.318,3],[3.329,2.95],[3.5,2.946],[3.508,2.922],[3.646,2.95],[3.67,2.941],[3.787,2.981],[3.895,2.937],[3.973,2.946],[3.984,2.898],[3.347,2.894],[3.562,2.941],[3.159,2.867],[3.184,2.867],[3.256,2.857],[3.5,2.876],[3.531,2.857],[3.554,2.861],[3.57,2.857],[3.694,2.904],[3.841,2.894],[3.802,2.959],[3.864,2.876],[3.469,2.756],[3.504,2.756],[3.632,2.756],[3.884,2.765],[3.961,2.756],[3.981,2.765],[3.298,2.752],[3.539,2.765],[3.775,2.774],[3.83,2.83],[4.016,2.209],[4.018,2.057],[3.965,2.065],[3.96,1.88],[3.938,1.807],[3.992,2.431],[3.961,2.417],[3.934,2.357],[3.953,2.309],[3.915,2.202],[3.907,2.144],[3.891,2.113],[3.874,2.187],[3.874,2.32],[3.876,2.394],[3.837,2.274],[3.833,2.213],[3.925,2.431],[3.833,2.45],[3.829,2.367],[3.845,2.376],[3.775,2.454],[3.779,2.339],[3.787,2.302],[3.74,2.357],[3.721,2.348],[3.729,2.33],[3.698,2.394],[3.686,2.302],[3.67,2.228],[3.678,2.2],[3.659,2.209],[3.729,2.172],[3.744,2.181],[3.756,2.209],[3.736,2.117],[3.752,2.08],[3.764,2.052],[3.776,2.089],[3.799,2.052],[3.802,2.181],[3.719,2.028],[3.709,2.07],[3.764,1.95],[3.776,1.922],[3.824,1.941],[3.843,1.972],[3.868,1.928],[3.876,1.922],[3.849,1.863],[3.787,1.863],[3.804,1.881],[3.812,1.863],[3.753,1.844],[3.775,1.82],[3.814,1.774],[3.802,1.737],[3.822,1.709],[3.766,1.704],[3.713,1.722],[3.678,1.743],[3.716,1.802],[3.64,1.88],[3.605,1.774],[3.606,1.728],[3.657,1.657],[3.57,1.761],[3.537,1.756],[3.523,1.696],[3.46,1.7],[3.394,1.765],[3.412,1.835],[3.444,1.848],[3.486,1.802],[3.391,1.969],[3.345,1.941],[3.354,1.909],[3.363,2.002],[3.451,2.024],[3.55,1.941],[3.54,1.863],[3.554,1.848],[3.571,1.844],[3.609,1.946],[3.601,2.009],[3.626,2.043],[3.636,2.037],[3.663,2.009],[3.319,1.789],[3.171,1.959],[3.188,2.198],[3.236,2.243],[3.384,2.198],[3.399,2.231],[3.393,2.124],[3.43,2.135],[3.481,2.191],[3.485,2.163],[3.557,2.126],[3.57,2.209],[3.578,2.191],[3.597,2.117],[3.5,2.265],[3.516,2.246],[3.422,2.339],[3.465,2.274],[3.457,2.45],[3.488,2.413],[3.516,2.404],[3.527,2.357],[3.547,2.357],[3.5,2.469],[3.523,2.496],[3.601,2.478],[3.636,2.45],[3.589,2.33],[3.62,2.293],[3.64,2.302],[3.632,2.172],[3.643,2.098],[3.663,2.283],[3.694,2.246],[3.252,2.339],[3.318,2.357],[3.729,2.487],[3.833,2.487]];
const pointsD4 = [[3.888,4.157],[3.639,3.88],[3.52,3.804],[3.56,3.815],[3.933,3.787],[3.884,3.778],[3.688,3.774],[3.44,3.72],[3.867,3.696],[3.696,3.685],[3.683,3.669],[3.541,3.676],[3.589,3.687],[3.854,3.648],[3.709,3.63],[3.517,3.606],[3.548,3.594],[3.441,3.593],[3.679,3.574],[3.863,3.561],[3.871,3.524],[3.522,3.487],[3.75,3.483],[3.821,3.441],[3.727,3.407],[3.504,3.393],[3.911,3.385],[3.319,3.35],[3.764,3.344],[3.781,3.357],[3.806,3.367],[3.815,3.344],[3.632,3.311],[3.308,3.283],[3.854,3.274],[3.699,3.259],[3.783,3.265],[3.401,3.231],[3.605,3.224],[3.837,3.222],[3.86,3.181],[3.219,3.154],[3.415,3.154],[3.484,3.154],[3.601,3.15],[3.69,3.15],[3.771,3.167],[3.806,3.126],[3.475,3.083],[3.736,3.098],[3.738,3.08],[3.415,3.043],[3.576,3.043],[3.616,3.033],[3.63,3.052],[3.624,3.02],[3.678,3.028],[3.686,3.052],[3.333,3.002],[3.898,3.015],[3.748,3],[3.502,2.978],[3.769,2.969],[3.668,2.969],[4.022,2.972],[3.413,2.956],[3.729,2.946],[3.471,2.907],[3.443,2.917],[3.529,2.917],[3.357,2.881],[3.391,2.885],[3.574,2.931],[3.655,2.904],[3.764,2.913],[3.802,2.913],[3.764,2.876],[3.26,2.848],[3.51,2.848],[3.601,2.894],[3.677,2.867],[3.702,2.876],[3.632,2.848],[3.562,2.793],[3.655,2.793],[3.741,2.783],[3.694,2.756],[3.848,2.783],[3.337,2.769],[3.531,2.746],[3.818,2.756],[2.959,2.346],[3.006,2.315],[3.05,2.233],[3.134,2.344],[3.214,2.219],[3.24,2.361],[3.257,2.352],[3.271,2.354],[3.252,2.198],[3.293,2.413],[3.319,2.372],[3.326,2.241],[3.337,2.465],[3.336,2.065],[3.345,2.037],[3.421,1.935],[3.432,2.389],[3.456,2.404],[3.44,2.324],[3.481,2.326],[3.496,2.487],[3.544,2.491],[3.562,2.422],[3.492,2.367],[3.433,2.172],[3.481,2.111],[3.483,1.983],[3.496,1.954],[3.478,1.906],[3.533,1.965],[3.548,2.015],[3.514,1.867],[3.502,1.843],[3.529,1.839],[3.516,1.7],[3.634,1.798],[3.633,1.724],[3.66,1.7],[3.667,1.631],[3.688,1.635],[3.611,1.607],[3.734,1.567],[3.765,1.628],[3.802,1.587],[3.934,1.62],[3.703,1.867],[3.699,1.919],[3.667,1.904],[3.628,1.946],[3.593,2.107],[3.655,2.076],[3.69,2.122],[3.698,2.083],[3.698,2.043],[3.62,2.172],[3.612,2.163],[3.704,2.256],[3.669,2.259],[3.622,2.246],[3.608,2.296],[3.624,2.339],[3.562,2.33],[3.547,2.302],[3.533,2.274],[3.674,2.343],[3.744,2.302],[3.81,2.283],[3.747,2.45],[3.763,2.459],[3.744,2.422],[3.663,2.459],[3.694,2.444],[3.678,2.45],[3.608,2.45],[3.669,2.404],[3.616,2.385],[3.815,2.413],[3.828,2.407],[3.863,2.431],[3.902,2.437],[3.907,2.394],[3.943,2.431],[3.851,2.346],[3.907,2.324],[4.015,2.548],[3.815,2.181],[3.951,2.198],[4.012,2.176],[4.002,2.089],[3.868,2.122],[3.849,2.12],[3.84,2.083],[3.866,2.08],[3.837,2.043],[3.826,2],[3.765,1.996],[3.726,1.996],[3.796,1.944],[3.88,1.863],[3.888,1.826],[3.882,1.796],[3.922,1.833],[3.939,1.844],[3.847,1.783],[3.85,1.752],[3.805,1.789],[3.793,1.756],[3.075,2.435],[3.351,2.548]];

const lineD1 = [[2.992,2.798],[3.884,2.83]];
const lineD2 = [[2.943,2.565],[3.988,2.576]];
const lineD3 = [[3.159,2.667],[3.988,2.672]];
const lineD4 = [[2.96,2.593],[4.02,2.659]];
const bandD1 = [[2.992,2.64,2.954],[3.2,2.69,2.9],[3.44,2.72,2.876],[3.65,2.74,2.9],[3.884,2.67,2.987]];
const bandD2 = [[2.943,2.348,2.737],[3.2,2.46,2.66],[3.45,2.52,2.62],[3.7,2.52,2.64],[3.988,2.45,2.7]];
const bandD3 = [[3.159,2.54,2.783],[3.4,2.6,2.73],[3.6,2.63,2.71],[3.8,2.62,2.72],[3.988,2.55,2.79]];
const bandD4 = [[2.96,2.385,2.848],[3.2,2.5,2.7],[3.5,2.58,2.68],[3.75,2.58,2.72],[4.02,2.515,2.811]];

const ticksX13 = [3.0, 3.3, 3.6, 3.9];
const ticksX24 = [3.0, 3.25, 3.5, 3.75, 4.0];
const ticksYA = [0, 0.5, 1.0];
const ticksYB = [1, 2];
const ticksYC = [0.5, 1.0, 1.5];
const ticksYD = [1.5, 2.0, 2.5, 3.0, 3.5, 4.0];

const panels = [
  { grid: { left: 77, top: 53, width: 526, height: 538 }, xr: [2.8525, 4.19], yr: [-0.3976, 1.4705], xt: ticksX13, xd: 1, yt: ticksYA, yd: 1, yName: "First Dorsal Spine Length (mm)", yGap: 44, points: [pointsA1, pointsA2, pointsA3, pointsA4], lines: [lineA1, lineA2, lineA3, lineA4], bands: [bandA1, bandA2, bandA3, bandA4] },
  { grid: { left: 690, top: 53, width: 541, height: 537 }, xr: [2.8515, 4.19], yr: [0.365, 2.947], xt: ticksX13, xd: 1, yt: ticksYB, yd: 0, yName: "First Dorsal Spine Length (mm)", yGap: 30, points: [pointsB1, pointsB2, pointsB3, pointsB4], lines: [lineB1, lineB2, lineB3, lineB4], bands: [bandB1, bandB2, bandB3, bandB4] },
  { grid: { left: 77, top: 675, width: 526, height: 539 }, xr: [2.89, 4.072], yr: [0.319, 1.842], xt: ticksX24, xd: 2, yt: ticksYC, yd: 1, yName: "Pelvic Spine Length (mm)", yGap: 44, points: [pointsC1, pointsC2, pointsC3, pointsC4], lines: [lineC1, lineC2, lineC3, lineC4], bands: [bandC1, bandC2, bandC3, bandC4] },
  { grid: { left: 690, top: 675, width: 527, height: 539 }, xr: [2.888, 4.07], yr: [1.372, 4.367], xt: ticksX24, xd: 2, yt: ticksYD, yd: 1, yName: "Pelvic Spine Length (mm)", yGap: 43, points: [pointsD1, pointsD2, pointsD3, pointsD4], lines: [lineD1, lineD2, lineD3, lineD4], bands: [bandD1, bandD2, bandD3, bandD4] },
];

const SANS = "Liberation Sans";
const SERIF = "Liberation Serif";

function buildOption() {
  const series: any[] = [];
  panels.forEach((p, pi) => {
    p.points.forEach((pts, g) => {
      series.push({ type: "scatter", name: GROUP_NAMES[g], xAxisIndex: pi, yAxisIndex: pi, data: pts, symbolSize: 10, itemStyle: { color: COLORS[g], opacity: 1 }, silent: true });
    });
    p.bands.forEach((band, g) => {
      series.push({
        type: "custom", xAxisIndex: pi, yAxisIndex: pi, coordinateSystem: "cartesian2d", silent: true, data: band, clip: true,
        encode: { x: 0, y: [1, 2] },
        renderItem: (params: any, api: any) => {
          if (params.dataIndex !== 0) return null;
          const upper = band.map((r) => api.coord([r[0], r[2]]));
          const lower = band.map((r) => api.coord([r[0], r[1]])).reverse();
          return { type: "polygon", shape: { points: upper.concat(lower) }, style: { fill: BAND_FILL } };
        },
      });
      series.push({ type: "line", xAxisIndex: pi, yAxisIndex: pi, data: p.lines[g], showSymbol: false, silent: true, lineStyle: { color: COLORS[g], width: 4, cap: "butt" } });
    });
  });

  const mk = (min: number, max: number, ticks: number[], dec: number, name: string, gap: number) => ({
    type: "value", min, max, name, nameLocation: "middle", nameGap: gap,
    nameTextStyle: { color: "#000", fontFamily: SANS, fontSize: 23 },
    splitLine: { show: false },
    axisLine: { show: true, onZero: false, lineStyle: { color: "#1a1a1a", width: 2 } },
    axisTick: { show: true, length: 4, customValues: ticks, lineStyle: { color: "#333", width: 1.5 } },
    axisLabel: { show: true, customValues: ticks, color: "#4d4d4d", fontFamily: SANS, fontSize: 17, margin: 9, formatter: (v: number) => v.toFixed(dec) },
  });

  const legendY = [101, 138, 175, 211];
  const graphic: any[] = [
    { type: "text", x: 320, y: 24, style: { text: "Non-Size Corrected Spine Length", font: `33.8px "${SERIF}"`, fill: "#000", textAlign: "center", textVerticalAlign: "middle" } },
    { type: "text", x: 949.5, y: 24, style: { text: "Size Corrected Spine Length", font: `33.8px "${SERIF}"`, fill: "#000", textAlign: "center", textVerticalAlign: "middle" } },
    { type: "text", x: 1196, y: 62, style: { text: "Time", font: `23px "${SANS}"`, fill: "#000", textVerticalAlign: "middle" } },
    { type: "rect", shape: { x: 1197, y: 83, width: 35, height: 146 }, style: { fill: "#d1d1d1" } },
    { type: "line", shape: { x1: 1197, y1: 119.5, x2: 1232, y2: 119.5 }, style: { stroke: "#e4e4e4", lineWidth: 1 } },
    { type: "line", shape: { x1: 1197, y1: 156, x2: 1232, y2: 156 }, style: { stroke: "#e4e4e4", lineWidth: 1 } },
    { type: "line", shape: { x1: 1197, y1: 192.5, x2: 1232, y2: 192.5 }, style: { stroke: "#e4e4e4", lineWidth: 1 } },
  ];
  GROUP_NAMES.forEach((n, i) => {
    graphic.push({ type: "line", shape: { x1: 1200, y1: legendY[i], x2: 1229, y2: legendY[i] }, style: { stroke: LEGEND_COLORS[i], lineWidth: 4 } });
    graphic.push({ type: "circle", shape: { cx: 1214.5, cy: legendY[i], r: 5 }, style: { fill: LEGEND_COLORS[i] } });
    graphic.push({ type: "text", x: 1248, y: legendY[i], style: { text: n, font: `17px "${SANS}"`, fill: "#000", textAlign: "center", textVerticalAlign: "middle" } });
  });

  return {
    animation: false,
    backgroundColor: "#fff",
    tooltip: { show: false },
    grid: panels.map((p) => ({ ...p.grid, containLabel: false })),
    xAxis: panels.map((p, i) => ({ gridIndex: i, ...mk(p.xr[0], p.xr[1], p.xt, p.xd, "Standard Length (mm)", 31) })),
    yAxis: panels.map((p, i) => ({ gridIndex: i, ...mk(p.yr[0], p.yr[1], p.yt, p.yd, p.yName, p.yGap) })),
    series,
    graphic,
  };
}

export default function App() {
  const ref = useRef<HTMLDivElement>(null);
  useEffect(() => {
    if (!ref.current) return;
    const chart = echarts.init(ref.current, undefined, { renderer: "svg" });
    chart.setOption(buildOption() as any);
    return () => chart.dispose();
  }, []);
  return <div ref={ref} style={{ position: "absolute", left: 0, top: 0, width: 1269, height: 1272 }} />;
}
